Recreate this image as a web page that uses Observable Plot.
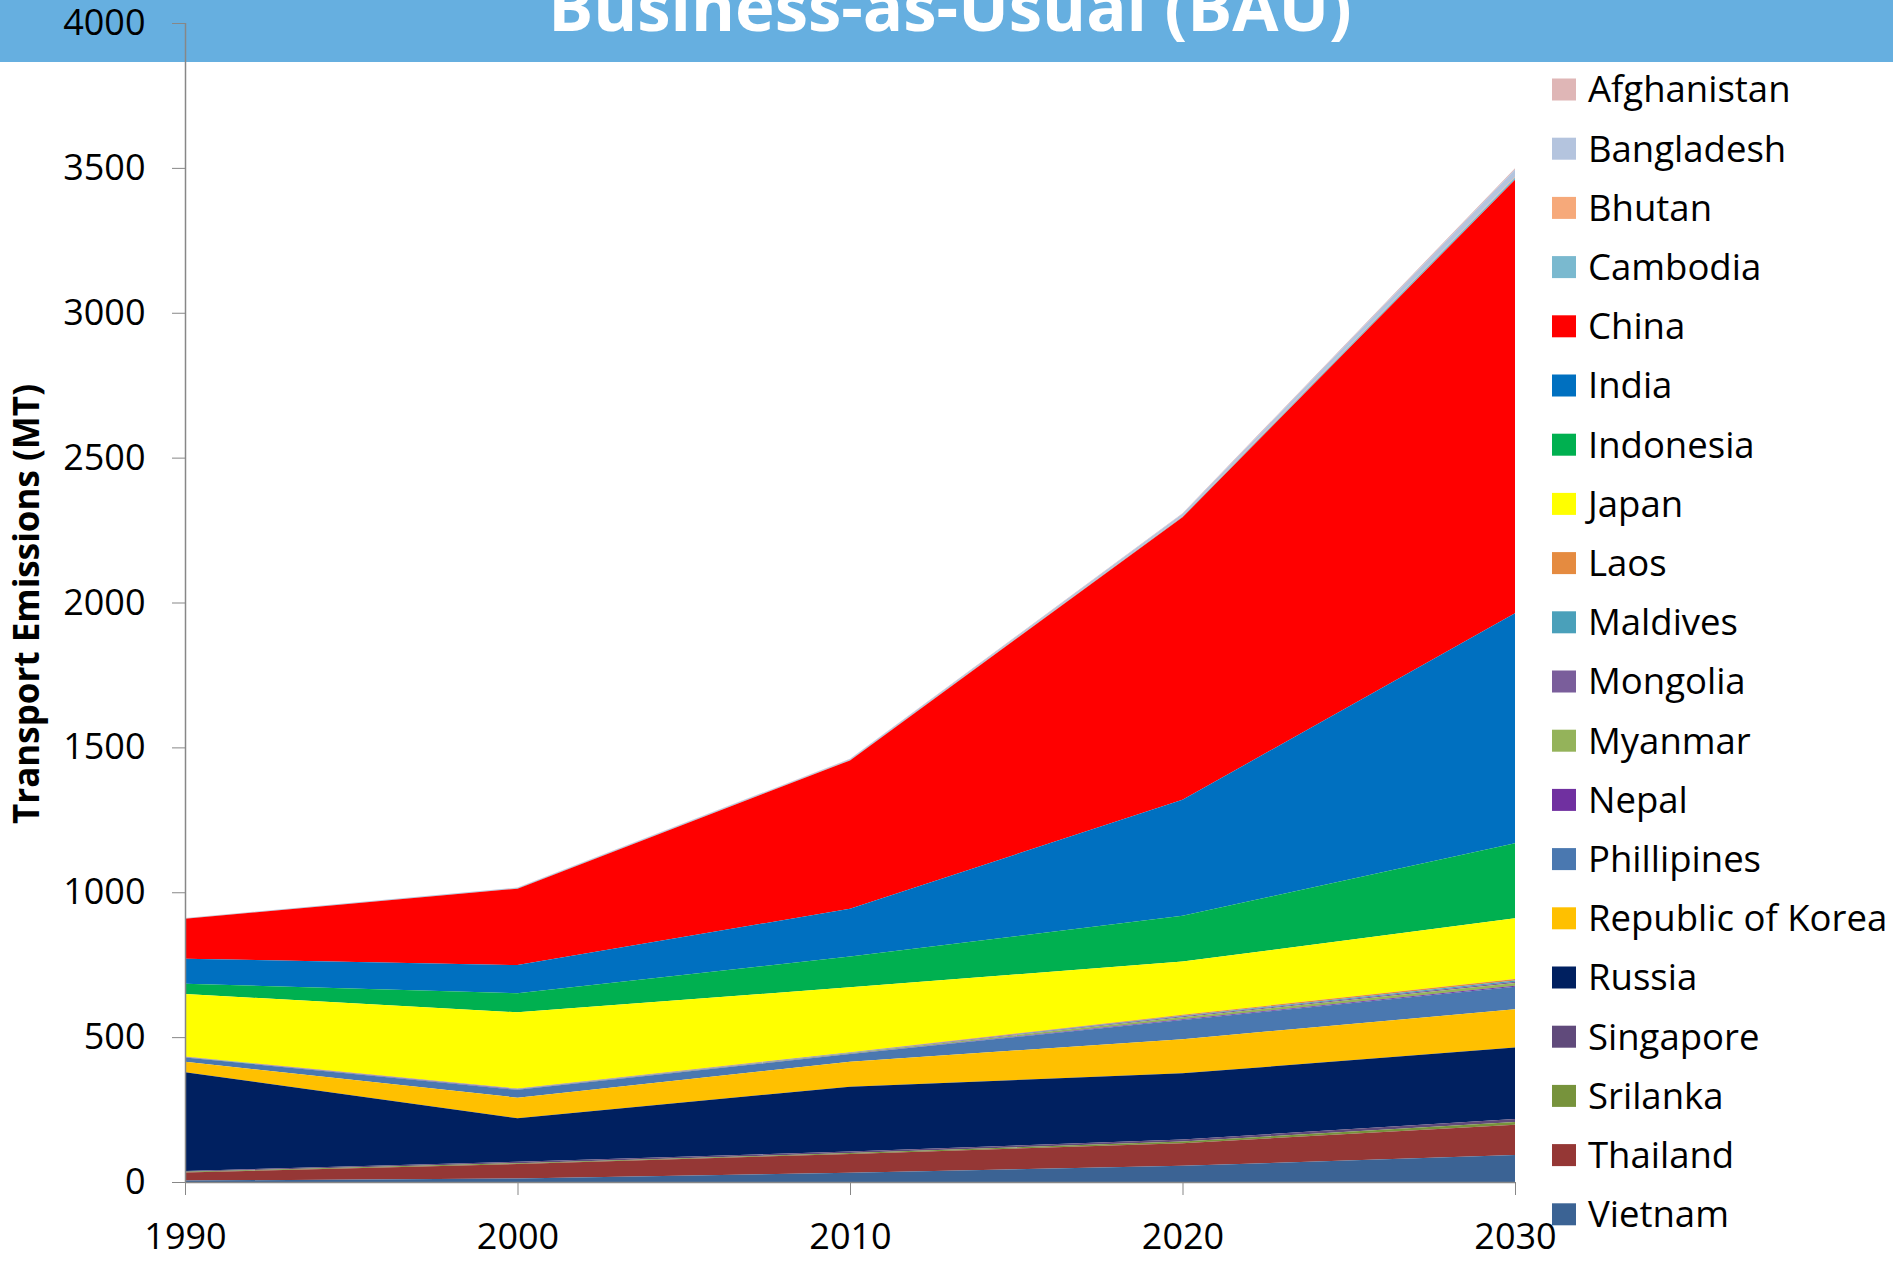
<!DOCTYPE html>
<html><head><meta charset="utf-8">
<script src="https://cdn.jsdelivr.net/npm/d3@7"></script>
<script src="https://cdn.jsdelivr.net/npm/@observablehq/plot@0.6"></script>
<style>
html,body{margin:0;padding:0;background:#fff;overflow:hidden;}
#wrap{position:relative;width:1893px;height:1261px;font-family:"Open Sans",sans-serif;}
#band{position:absolute;left:0;top:0;width:1893px;height:62px;background:#66AFE0;}
#chart{position:absolute;left:0;top:0;}
#overlay{position:absolute;left:0;top:0;}
</style></head>
<body><div id="wrap"><div id="band"></div><div id="chart"></div><svg id="overlay" width="1893" height="1261"></svg></div>
<script>
const title = "Business-as-Usual (BAU)";
const yLabel = "Transport Emissions (MT)";
const years = [1990, 2000, 2010, 2020, 2030];
const yTicks = [0, 500, 1000, 1500, 2000, 2500, 3000, 3500, 4000];

// legend order (top to bottom)
const countries = ["Afghanistan","Bangladesh","Bhutan","Cambodia","China","India","Indonesia","Japan","Laos","Maldives","Mongolia","Myanmar","Nepal","Phillipines","Republic of Korea","Russia","Singapore","Srilanka","Thailand","Vietnam"];
const colors = ["#DFB6B6","#B4C4DE","#F6A97A","#7AB9CF","#FF0000","#0070C0","#00B050","#FFFF00","#E58B40","#4AA0BA","#7A5E9B","#94B35A","#7030A0","#4A78B0","#FFC000","#002060","#604A7B","#77933C","#953735","#3B6394"];

// values per year 1990..2030 (MT)
const Afghanistan = [0.3, 0.5, 1, 2, 5];
const Bangladesh  = [1, 2, 3, 8, 25];
const Bhutan      = [0.2, 0.3, 0.5, 1, 2];
const Cambodia    = [0.5, 1, 1, 3, 8];
const China       = [138, 264, 512, 975, 1496];
const India       = [87, 97, 165, 400, 794];
const Indonesia   = [35, 66, 106, 158, 259];
const Japan       = [216, 263, 224, 184, 209];
const Laos        = [0.5, 1, 1, 3, 6];
const Maldives    = [0.3, 0.5, 1, 2, 4];
const Mongolia    = [0.5, 1, 1, 3, 4];
const Myanmar     = [1, 1, 2, 7, 10];
const Nepal       = [0.5, 1, 1, 3, 3];
const Phillipines = [15, 27, 27, 66, 78];
const Korea       = [36, 71, 86, 118, 132];
const Russia      = [341, 150, 224, 228, 247];
const Singapore   = [3, 5, 5, 7, 10];
const Srilanka    = [2, 3, 3, 6, 9];
const Thailand    = [28, 50, 65, 78, 105];
const Vietnam     = [5, 12, 32, 56, 93];

const series = [Afghanistan,Bangladesh,Bhutan,Cambodia,China,India,Indonesia,Japan,Laos,Maldives,Mongolia,Myanmar,Nepal,Phillipines,Korea,Russia,Singapore,Srilanka,Thailand,Vietnam];
const table = [];
countries.forEach((c, i) => years.forEach((yr, j) => table.push({country: c, year: yr, value: series[i][j]})));
const stackOrder = countries.slice().reverse(); // Vietnam at bottom

const chart = Plot.plot({
  width: 1893, height: 1261,
  marginLeft: 185, marginRight: 378, marginTop: 23, marginBottom: 79,
  style: {background: "transparent", fontFamily: "'Open Sans', sans-serif", fontSize: "36px", color: "#000"},
  x: {domain: [1990, 2030]},
  y: {domain: [0, 4000]},
  color: {domain: countries, range: colors},
  marks: [
    Plot.areaY(table, {x: "year", y: "value", z: "country", fill: "country", order: stackOrder}),
    Plot.ruleX([1990], {stroke: "#878787", strokeWidth: 1.5}),
    Plot.ruleY([0], {stroke: "#878787", strokeWidth: 1.5}),
    Plot.axisY({ticks: yTicks, tickSize: 13, tickPadding: 27, stroke: "#878787", fill: "#000", label: null, tickFormat: d => String(d)}),
    Plot.axisX({ticks: years, tickSize: 13, tickPadding: 28, stroke: "#878787", fill: "#000", label: null, tickFormat: d => String(d)})
  ]
});
document.getElementById("chart").appendChild(chart);

const ov = d3.select("#overlay");
ov.append("text").attr("x", 950).attr("y", 31).attr("text-anchor", "middle")
  .attr("fill", "#fff").attr("font-family", "'Open Sans', sans-serif").attr("font-weight", 700)
  .attr("font-size", 67).text(title);
ov.append("text").attr("transform", "translate(39,604) rotate(-90)").attr("text-anchor", "middle")
  .attr("fill", "#000").attr("font-family", "'Open Sans', sans-serif").attr("font-weight", 700)
  .attr("font-size", 35).text(yLabel);
countries.forEach((c, i) => {
  const cy = 89.5 + i * 59.2;
  ov.append("rect").attr("x", 1552).attr("y", cy - 11).attr("width", 24).attr("height", 22).attr("fill", colors[i]);
  ov.append("text").attr("x", 1588).attr("y", cy + 12.8).attr("fill", "#000")
    .attr("font-family", "'Open Sans', sans-serif").attr("font-size", 36.5).text(c);
});
</script>
</body></html>
